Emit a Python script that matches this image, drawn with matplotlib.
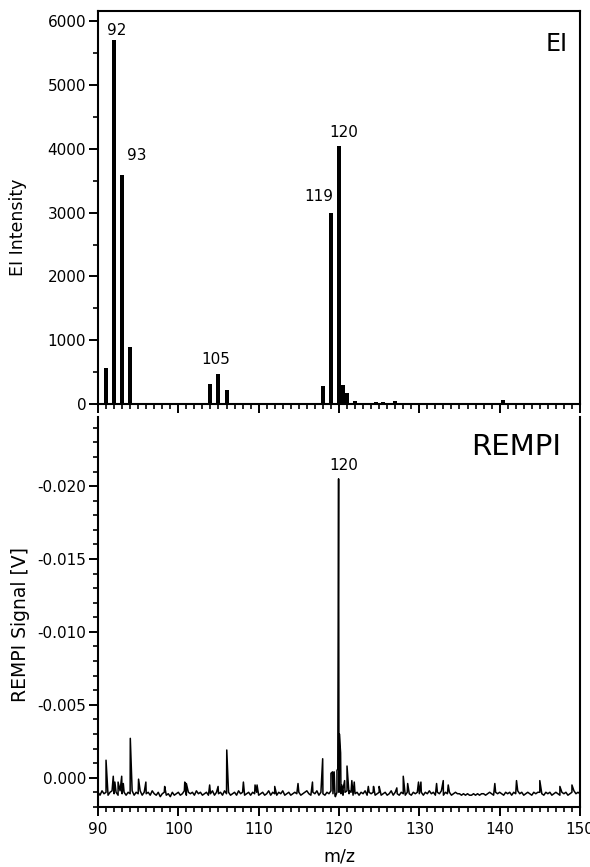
import matplotlib
matplotlib.use("Agg")
import matplotlib.pyplot as plt
import numpy as np
from matplotlib.ticker import MultipleLocator, FormatStrFormatter

plt.rcParams['font.family'] = ['DejaVu Sans']
plt.rcParams['axes.unicode_minus'] = False

# EI mass spectrum (stick spectrum)
ei_mz = [91, 92, 93, 94, 96, 97, 98, 99, 101.2, 102, 104, 105, 106,
         118, 119, 120, 120.55, 121, 122, 124.6, 125.5, 127, 133, 140.4]
ei_int = [570, 5710, 3590, 890, 15, 15, 15, 12, 15, 15, 310, 470, 225,
          280, 3000, 4040, 300, 175, 50, 25, 25, 50, 15, 70]

ei_labels = ['92', '93', '105', '119', '120']
ei_label_x = [92.3, 94.8, 104.6, 117.55, 120.6]
ei_label_y = [5850, 3900, 700, 3250, 4250]

# REMPI trace: baseline read every 0.25 m/z (units 1e-4 V), plus spikes
base_start = 90.0
base_step = 0.25
rempi_base = [
    10, 12, 9, 11, 10, 12, 10, 9, 11, 10, 12, 9, 11, 10, 12, 10, 11, 9, 12, 10,
    11, 9, 12, 10, 11, 10, 12, 9, 11, 12, 10, 13, 11, 10, 12, 11, 13, 10, 12, 11,
    10, 12, 11, 9, 12, 10, 11, 10, 12, 9, 11, 10, 12, 11, 10, 12, 11, 9, 12, 10,
    11, 10, 12, 9, 11, 10, 12, 11, 10, 12, 9, 11, 10, 12, 11, 10, 12, 10, 11, 10,
    12, 11, 10, 12, 11, 9, 12, 10, 11, 12, 10, 11, 9, 12, 11, 10, 12, 11, 10, 11,
    10, 12, 11, 10, 9, 11, 12, 10, 11, 9, 12, 10, 11, 12, 10, 11, 9, 11, 12, 10,
    10, 11, 12, 10, 9, 11, 10, 12, 11, 10, 12, 10, 11, 9, 12, 10, 11, 10, 12, 11,
    10, 12, 11, 10, 12, 11, 9, 12, 10, 11, 12, 10, 11, 12, 10, 11, 12, 10, 11, 10,
    11, 10, 12, 10, 11, 9, 11, 10, 12, 10, 11, 9, 12, 10, 11, 10, 12, 11, 10, 11,
    11, 12, 11, 12, 11, 12, 12, 11, 12, 11, 12, 11, 11, 12, 11, 10, 11, 12, 10, 11,
    10, 11, 12, 10, 11, 10, 12, 10, 11, 9, 11, 10, 12, 11, 10, 11, 12, 10, 11, 10,
    10, 11, 12, 10, 11, 10, 12, 11, 10, 11, 12, 10, 11, 10, 12, 11, 10, 9, 11, 10,
    11,
]
spike_mz = [91.0, 91.9, 92.1, 92.5, 92.95, 93.15, 94.02, 95.05, 95.96, 98.3,
            100.8, 101.0, 103.9, 104.95, 106.03, 108.1, 109.55, 109.8, 112.0,
            114.9, 116.7, 117.97, 119.0, 119.2, 119.4, 119.55, 119.75, 119.85,
            119.95, 120.05, 120.2, 120.35, 120.5, 120.7, 121.0, 121.3, 121.6,
            121.9, 123.65, 124.3, 125.0, 127.2, 128.0, 128.55, 129.9, 130.2,
            132.15, 132.98, 133.6, 139.4, 142.1, 145.0, 147.5, 149.0]
spike_val = [-12, -1, 3, 3, -1, 4, -27, 1, 3, 6,
             3, 4, 5, 6, -19, 3, 5, 5, 6,
             4, 3, -13, -3, -4, -4, 13, -5, -6,
             -205, -30, -17, 5, 8, 2, -8, 9, 2,
             3, 6, 6, 6, 7, -1, 4, 3, 3,
             4, 2, 5, 4, 2, 2, 6, 5]

base_mz = [base_start + i * base_step for i in range(len(rempi_base))]
all_mz = np.array(base_mz + spike_mz)
all_val = np.array(rempi_base + spike_val) * 1e-4
order = np.argsort(all_mz, kind='stable')
trace_mz = all_mz[order]
trace_val = all_val[order]

fig = plt.figure(figsize=(5.9, 8.67), dpi=100)
ax1 = fig.add_axes([0.1661, 0.534, 0.8169, 0.4533])
ax2 = fig.add_axes([0.1661, 0.0692, 0.8169, 0.4498])

# top panel
ax1.bar(ei_mz, ei_int, width=0.5, color='black')
ax1.set_xlim(90, 150)
ax1.set_ylim(0, 6160)
ax1.xaxis.set_major_locator(MultipleLocator(10))
ax1.xaxis.set_minor_locator(MultipleLocator(1))
ax1.yaxis.set_major_locator(MultipleLocator(1000))
ax1.yaxis.set_minor_locator(MultipleLocator(500))
ax1.tick_params(axis='x', labelbottom=False)
for txt, x, y in zip(ei_labels, ei_label_x, ei_label_y):
    ax1.text(x, y, txt, ha='center', va='center', fontsize=11)
ax1.text(147.1, 5650, 'EI', ha='center', va='center', fontsize=17)
ax1.set_ylabel('EI Intensity', fontsize=12.5)
ax1.yaxis.set_label_coords(-0.147, 0.45)

# bottom panel
ax2.plot(trace_mz, trace_val, color='black', lw=1.1)
ax2.set_xlim(90, 150)
ax2.set_ylim(0.00201, -0.02474)
ax2.set_yticks([0.0, -0.005, -0.010, -0.015, -0.020])
ax2.yaxis.set_major_formatter(FormatStrFormatter('%.3f'))
ax2.yaxis.set_minor_locator(MultipleLocator(0.001))
ax2.xaxis.set_major_locator(MultipleLocator(10))
ax2.xaxis.set_minor_locator(MultipleLocator(1))
ax2.spines['top'].set_visible(False)
ax2.text(120.54, -0.0214, '120', ha='center', va='center', fontsize=11)
ax2.text(142.0, -0.0227, 'REMPI', ha='center', va='center', fontsize=21)
ax2.set_ylabel('REMPI Signal [V]', fontsize=13.5)
ax2.yaxis.set_label_coords(-0.141, 0.469)
ax2.set_xlabel('m/z', fontsize=12.5)
ax2.xaxis.set_label_coords(0.5, -0.105)

for ax in (ax1, ax2):
    for s in ax.spines.values():
        s.set_linewidth(1.5)
    ax.tick_params(which='major', direction='out', length=6.5, width=1.4,
                   labelsize=11, pad=2, top=False, right=False)
    ax.tick_params(which='minor', direction='out', length=3.5, width=1.2,
                   top=False, right=False)
ax2.tick_params(axis='x', which='major', pad=4)

fig.savefig('out.png', dpi=100)
